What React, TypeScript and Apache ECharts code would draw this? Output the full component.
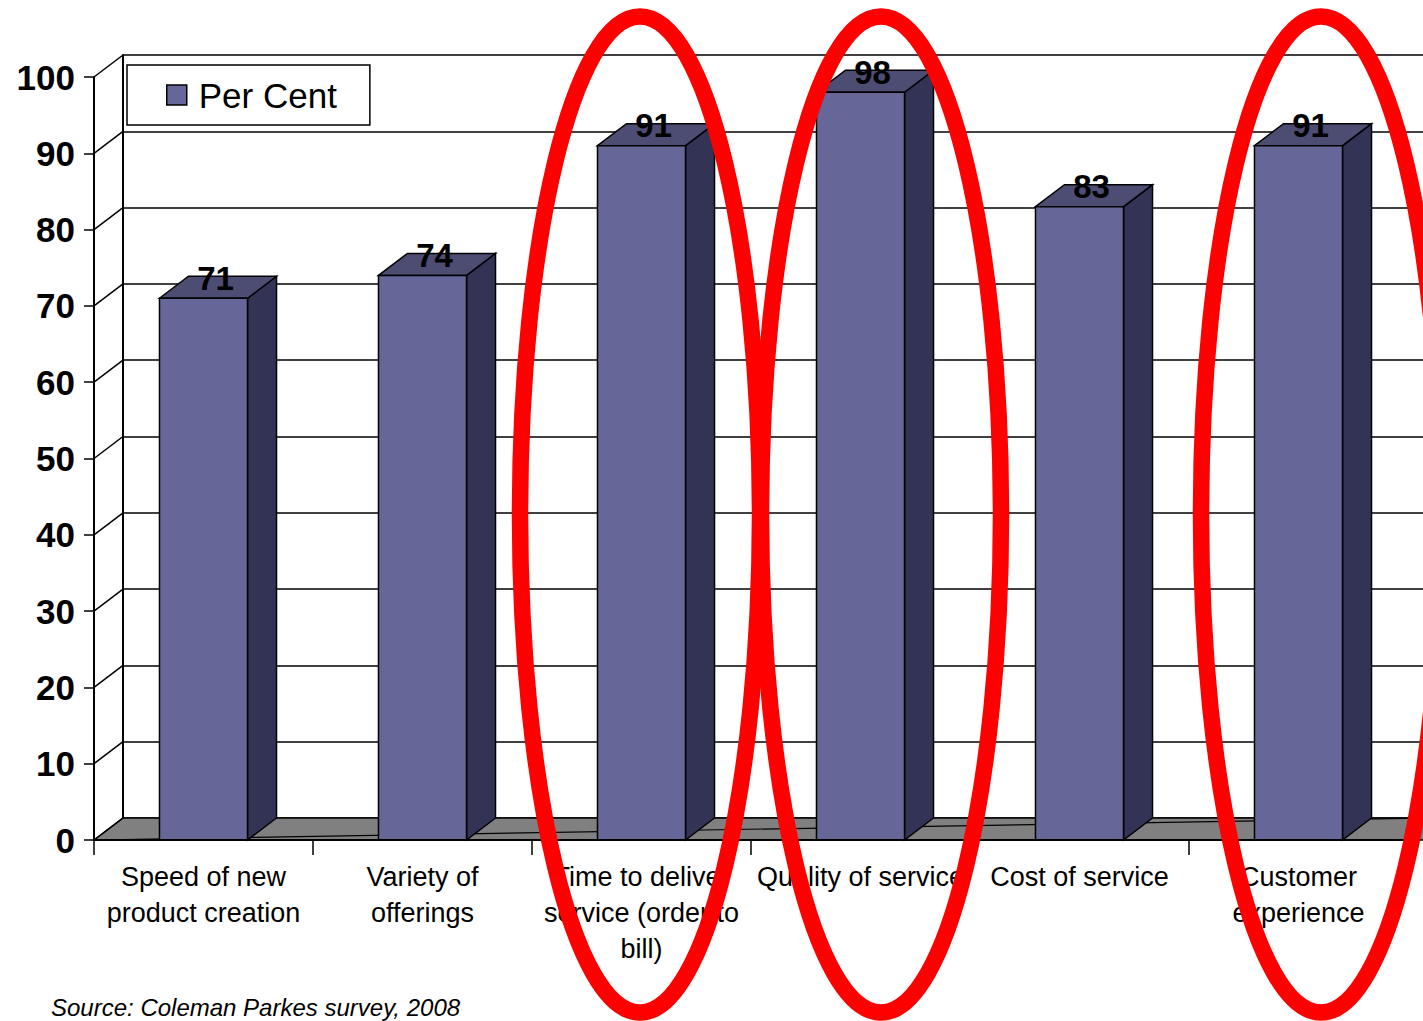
import React, { useEffect, useRef } from "react";
import * as echarts from "echarts";

const categories = [
  "Speed of new\nproduct creation",
  "Variety of\nofferings",
  "Time to deliver\nservice (order to\nbill)",
  "Quality of service",
  "Cost of service",
  "Customer\nexperience",
];
const perCent = [71, 74, 91, 98, 83, 91];
const yTicks = [0, 10, 20, 30, 40, 50, 60, 70, 80, 90, 100];
const seriesName = "Per Cent";
const sourceNote = "Source: Coleman Parkes survey, 2008";
// red hand-drawn ellipse annotations (pixel centres)
const ellipseCentersX = [640, 881, 1321];

const DX = 29;
const DY = 22;
const FONT = "'Liberation Sans', Arial, sans-serif";

export default function App() {
  const ref = useRef<HTMLDivElement>(null);
  useEffect(() => {
    if (!ref.current) return;
    const chart = echarts.init(ref.current, undefined, { renderer: "svg" });

    const frameRender = (params: any, api: any) => {
      const v = api.value(0);
      const cs = params.coordSys;
      const x0 = cs.x;
      const w = cs.width;
      const y = api.coord([0, v])[1];
      const children: any[] = [];
      if (v === 0) {
        children.push({
          type: "polygon",
          shape: {
            points: [
              [x0, y],
              [x0 + DX, y - DY],
              [x0 + w + DX, y - DY],
              [x0 + w + DX, y],
            ],
          },
          style: { fill: "#808080", stroke: "#000", lineWidth: 1.5 },
        });
        children.push({
          type: "line",
          shape: { x1: x0, y1: y, x2: x0 + w + DX, y2: y - DY },
          style: { stroke: "#000", lineWidth: 1.2 },
        });
      }
      children.push({
        type: "line",
        shape: { x1: x0, y1: y, x2: x0 + DX, y2: y - DY },
        style: { stroke: "#000", lineWidth: 1.5 },
      });
      return { type: "group", children };
    };

    const barRender = (params: any, api: any) => {
      const idx = api.value(0);
      const val = api.value(1);
      const top = api.coord([idx, val]);
      const base = api.coord([idx, 0]);
      const band = api.size([1, 0])[0];
      const bw = band * 0.402;
      const cx = top[0];
      const x1 = cx - bw / 2;
      const x2 = cx + bw / 2;
      const yt = top[1];
      const yb = base[1];
      return {
        type: "group",
        children: [
          {
            type: "polygon",
            shape: {
              points: [
                [x2, yt],
                [x2 + DX, yt - DY],
                [x2 + DX, yb - DY],
                [x2, yb],
              ],
            },
            style: { fill: "#333355", stroke: "#000", lineWidth: 1.5 },
          },
          {
            type: "polygon",
            shape: {
              points: [
                [x1, yt],
                [x1 + DX, yt - DY],
                [x2 + DX, yt - DY],
                [x2, yt],
              ],
            },
            style: { fill: "#4d4d74", stroke: "#000", lineWidth: 1.5 },
          },
          {
            type: "rect",
            shape: { x: x1, y: yt, width: bw, height: yb - yt },
            style: { fill: "#666699", stroke: "#000", lineWidth: 1.5 },
          },
          {
            type: "text",
            z2: 10,
            style: {
              x: cx + 12,
              y: yt - 20,
              text: String(val),
              align: "center",
              verticalAlign: "middle",
              fill: "#000",
              font: `bold 33px ${FONT}`,
            },
          },
        ],
      };
    };

    const ellipses = ellipseCentersX.map((cx) => ({
      type: "ellipse",
      z: 100,
      shape: { cx, cy: 514.5, rx: 120, ry: 498 },
      style: { fill: "none", stroke: "#ff0000", lineWidth: 16.5 },
    }));

    chart.setOption({
      animation: false,
      backgroundColor: "#ffffff",
      textStyle: { fontFamily: FONT },
      title: {
        text: sourceNote,
        left: 51,
        top: 995,
        padding: 0,
        textStyle: {
          fontFamily: FONT,
          fontStyle: "italic",
          fontWeight: "normal",
          fontSize: 24,
          color: "#000",
        },
      },
      legend: {
        left: 127,
        top: 65,
        orient: "horizontal",
        icon: "rect",
        itemWidth: 20,
        itemHeight: 20,
        backgroundColor: "#fff",
        borderColor: "#000",
        borderWidth: 1.5,
        borderRadius: 0,
        padding: [12, 33, 12, 39],
        itemStyle: { borderColor: "#000", borderWidth: 1.5 },
        textStyle: {
          fontFamily: FONT,
          fontSize: 35,
          color: "#000",
          lineHeight: 36,
          padding: [0, 0, 0, 7],
        },
        data: [seriesName],
      },
      grid: [
        { left: 94, right: 15, top: 77, bottom: 181 },
        { left: 94 + DX, right: 0, top: 77 - DY, bottom: 181 + DY },
      ],
      xAxis: [
        {
          type: "category",
          gridIndex: 0,
          data: categories,
          axisLine: { show: true, lineStyle: { color: "#000", width: 2 } },
          axisTick: {
            show: true,
            length: 15,
            alignWithLabel: false,
            lineStyle: { color: "#000", width: 1.5 },
          },
          axisLabel: {
            interval: 0,
            margin: 19,
            color: "#000",
            fontFamily: FONT,
            fontSize: 27,
            lineHeight: 36,
          },
          splitLine: { show: false },
          z: 5,
        },
        {
          type: "category",
          gridIndex: 1,
          data: categories,
          show: false,
        },
      ],
      yAxis: [
        {
          type: "value",
          gridIndex: 0,
          min: 0,
          max: 100,
          interval: 10,
          axisLine: { show: true, lineStyle: { color: "#000", width: 2 } },
          axisTick: { show: true, length: 10, lineStyle: { color: "#000", width: 1.5 } },
          axisLabel: {
            margin: 19,
            color: "#000",
            fontFamily: FONT,
            fontSize: 35,
            fontWeight: "bold",
          },
          splitLine: { show: false },
          z: 5,
        },
        {
          type: "value",
          gridIndex: 1,
          min: 0,
          max: 100,
          interval: 10,
          axisLine: { show: true, lineStyle: { color: "#000", width: 2 } },
          axisTick: { show: false },
          axisLabel: { show: false },
          splitLine: { show: true, lineStyle: { color: "#000", width: 1.5 } },
        },
      ],
      series: [
        {
          type: "custom",
          name: "frame",
          xAxisIndex: 0,
          yAxisIndex: 0,
          data: yTicks.map((v) => [v]),
          encode: { y: 0 },
          renderItem: frameRender,
          silent: true,
          z: 1,
        },
        {
          type: "custom",
          name: seriesName,
          xAxisIndex: 0,
          yAxisIndex: 0,
          data: perCent.map((v, i) => [i, v]),
          encode: { x: 0, y: 1 },
          itemStyle: { color: "#666699" },
          renderItem: barRender,
          z: 3,
        },
      ],
      graphic: ellipses,
    });
    return () => chart.dispose();
  }, []);
  return (
    <div
      ref={ref}
      style={{ position: "fixed", left: 0, top: 0, width: 1423, height: 1021 }}
    />
  );
}
